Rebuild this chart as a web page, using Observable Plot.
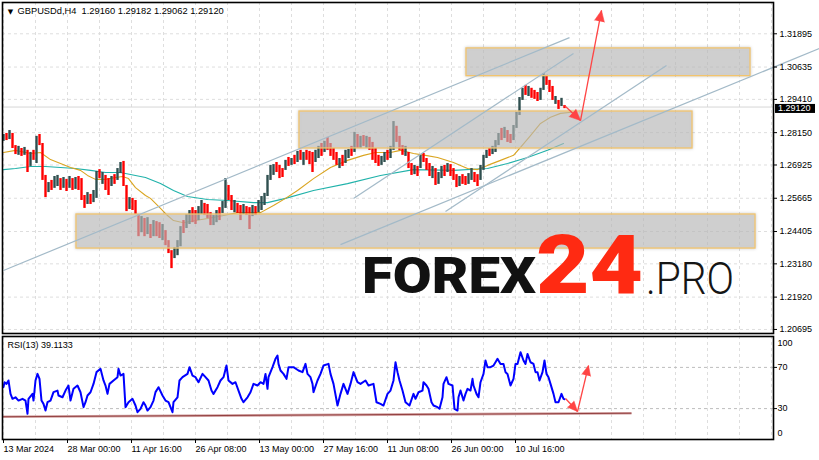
<!DOCTYPE html>
<html><head><meta charset="utf-8">
<script src="https://cdn.jsdelivr.net/npm/d3@7"></script>
<script src="https://cdn.jsdelivr.net/npm/@observablehq/plot@0.6"></script>
<style>
html,body{margin:0;padding:0;background:#fff;}
#chart{position:relative;width:819px;height:460px;overflow:hidden;}
#chart svg{display:block;}
</style></head><body><div id="chart"></div>
<script>
// ---- candles (one sample every 3 H4 bars), prices ----
const candleHigh = [1.2808,1.2812,1.2823,1.2812,1.2766,1.2763,1.2755,1.2759,1.2748,1.2740,
1.2748,1.2801,1.2808,1.2774,1.2653,1.2626,1.2634,1.2649,1.2653,1.2641,
1.2645,1.2638,1.2649,1.2641,1.2645,1.2649,1.2641,1.2577,1.2588,1.2581,
1.2596,1.2668,1.2675,1.2664,1.2653,1.2641,1.2649,1.2656,1.2679,1.2702,
1.2706,1.2615,1.2569,1.2566,1.2558,1.2505,1.2497,1.2490,1.2493,1.2467,
1.2482,1.2478,1.2474,1.2467,1.2444,1.2406,1.2368,1.2380,1.2406,1.2459,
1.2482,1.2505,1.2520,1.2531,1.2520,1.2535,1.2558,1.2547,1.2543,1.2512,
1.2501,1.2520,1.2531,1.2554,1.2641,1.2615,1.2577,1.2558,1.2547,1.2539,
1.2543,1.2535,1.2531,1.2539,1.2535,1.2558,1.2573,1.2585,1.2653,1.2691,
1.2694,1.2702,1.2691,1.2679,1.2710,1.2721,1.2717,1.2729,1.2744,1.2748,
1.2740,1.2748,1.2744,1.2740,1.2748,1.2763,1.2774,1.2782,1.2797,1.2774,
1.2755,1.2740,1.2717,1.2729,1.2748,1.2751,1.2763,1.2816,1.2808,1.2801,
1.2804,1.2801,1.2797,1.2778,1.2755,1.2729,1.2725,1.2740,1.2748,1.2763,
1.2857,1.2839,1.2801,1.2766,1.2763,1.2740,1.2698,1.2691,1.2687,1.2729,
1.2736,1.2717,1.2698,1.2687,1.2679,1.2664,1.2687,1.2691,1.2698,1.2694,
1.2679,1.2656,1.2649,1.2656,1.2649,1.2660,1.2679,1.2664,1.2656,1.2691,
1.2729,1.2748,1.2755,1.2763,1.2785,1.2812,1.2831,1.2835,1.2823,1.2808,
1.2842,1.2892,1.2948,1.2983,1.2994,1.2990,1.2983,1.2975,1.2967,1.2983,
1.3039,1.3032,1.3013,1.2990,1.2952,1.2937,1.2945,1.2918];
const candleLow = [1.2782,1.2785,1.2789,1.2755,1.2732,1.2729,1.2725,1.2729,1.2664,1.2687,
1.2710,1.2698,1.2766,1.2634,1.2569,1.2588,1.2596,1.2604,1.2611,1.2596,
1.2604,1.2592,1.2604,1.2596,1.2600,1.2596,1.2558,1.2528,1.2543,1.2543,
1.2550,1.2566,1.2641,1.2619,1.2596,1.2577,1.2611,1.2619,1.2634,1.2660,
1.2611,1.2516,1.2524,1.2520,1.2505,1.2421,1.2436,1.2421,1.2429,1.2414,
1.2421,1.2421,1.2414,1.2406,1.2387,1.2357,1.2300,1.2338,1.2349,1.2383,
1.2433,1.2452,1.2467,1.2474,1.2467,1.2482,1.2505,1.2501,1.2490,1.2463,
1.2463,1.2474,1.2482,1.2509,1.2528,1.2558,1.2520,1.2512,1.2509,1.2482,
1.2505,1.2501,1.2448,1.2497,1.2501,1.2512,1.2520,1.2539,1.2573,1.2634,
1.2653,1.2664,1.2641,1.2645,1.2672,1.2687,1.2691,1.2694,1.2702,1.2710,
1.2691,1.2710,1.2694,1.2664,1.2702,1.2717,1.2725,1.2740,1.2748,1.2725,
1.2710,1.2691,1.2679,1.2687,1.2698,1.2717,1.2725,1.2740,1.2755,1.2755,
1.2763,1.2755,1.2748,1.2710,1.2698,1.2687,1.2691,1.2702,1.2710,1.2717,
1.2748,1.2778,1.2748,1.2729,1.2725,1.2679,1.2653,1.2656,1.2649,1.2679,
1.2702,1.2672,1.2649,1.2641,1.2615,1.2619,1.2641,1.2649,1.2664,1.2649,
1.2634,1.2607,1.2611,1.2619,1.2615,1.2619,1.2634,1.2626,1.2611,1.2634,
1.2672,1.2717,1.2725,1.2732,1.2740,1.2766,1.2785,1.2793,1.2778,1.2774,
1.2785,1.2831,1.2880,1.2937,1.2956,1.2952,1.2945,1.2941,1.2933,1.2937,
1.2975,1.2994,1.2967,1.2937,1.2922,1.2903,1.2914,1.2906];
const candleDir = "ududdududu"+"duddduduud"+"udududddud"+"uududduduu"+"ddudddudud"+
"udduddduuu"+"duudduuddd"+"uuduuddudd"+"udduduuuuu"+"udddududud"+
"uddduududd"+"dduduududu"+"dudddduudu"+"uddduddudu"+"ddduduudud"+
"ddudduuddu"+"uuduuududd"+"uuuududddu"+"udddudud";
const barStep = 3;

// moving averages [bar, price]
const maFast = [[0,1.2740],[12,1.2748],[27,1.2736],[37,1.2740],[47,1.2713],[57,1.2698],[67,1.2683],[77,1.2672],[84,1.2653],[92,1.2638],[102,1.2638],[112,1.2645],[119,1.2649],[125,1.2641],[132,1.2607],[142,1.2577],[147,1.2566],[157,1.2528],[164,1.2501],[170,1.2482],[180,1.2474],[192,1.2482],[204,1.2490],[220,1.2501],[234,1.2512],[257,1.2512],[270,1.2539],[282,1.2566],[294,1.2596],[310,1.2641],[327,1.2683],[344,1.2710],[360,1.2729],[372,1.2740],[387,1.2740],[397,1.2748],[410,1.2736],[422,1.2729],[434,1.2721],[450,1.2702],[464,1.2679],[474,1.2675],[484,1.2691],[497,1.2710],[510,1.2729],[517,1.2759],[527,1.2804],[537,1.2850],[547,1.2873],[557,1.2888],[568,1.2892]];
const maSlow = [[0,1.2675],[12,1.2679],[27,1.2687],[42,1.2687],[57,1.2683],[72,1.2679],[87,1.2672],[102,1.2664],[117,1.2664],[132,1.2653],[142,1.2645],[157,1.2622],[170,1.2596],[184,1.2573],[204,1.2562],[224,1.2558],[250,1.2550],[264,1.2550],[282,1.2566],[310,1.2596],[344,1.2622],[377,1.2653],[410,1.2675],[450,1.2672],[484,1.2679],[504,1.2698],[524,1.2721],[544,1.2748],[560,1.2774]];

// RSI(13) [bar, value]
const rsi = [[0,50.8],[1,55.6],[3,54],[5,57.3],[7,44.3],[9,39.5],[12,41],[15,37.8],[19,39.5],[22,37.8],[24,25],[25,39.5],[29,44.3],[30,37.8],[32,57.3],[34,63.7],[36,58.9],[38,37.8],[40,34.6],[42,28.1],[44,36.2],[47,37.8],[50,46],[54,47.5],[55,42.7],[59,41],[62,47.5],[65,52.4],[67,37.8],[70,49.2],[74,52.4],[77,45.9],[80,31.4],[82,36.2],[84,42.7],[87,45.9],[90,54],[93,65.4],[97,68.6],[100,57.3],[102,52.4],[104,44.3],[106,54],[110,57.3],[114,60.5],[115,68.6],[117,62.1],[120,63.7],[122,31.4],[125,36.2],[129,39.5],[132,33],[134,26.5],[137,29.8],[140,36.2],[142,33],[144,28.1],[147,31.4],[150,37.8],[152,46],[155,50.8],[159,42.7],[162,37.8],[165,36.2],[169,26.5],[170,36.2],[174,41],[176,57.3],[179,60.5],[184,63.7],[186,70.2],[189,62.1],[192,60.5],[195,55.6],[199,63.7],[202,60.5],[205,57.3],[208,47.5],[210,44.3],[214,50.8],[217,57.3],[220,60.5],[223,71.8],[225,57.3],[229,54],[232,55.6],[235,47.5],[238,39.5],[240,36.2],[244,41],[247,45.9],[250,54],[254,52.4],[257,55.6],[260,54],[262,63.7],[264,49.2],[265,60.5],[269,70.2],[272,78.3],[274,81.5],[275,73.4],[277,67],[280,63.7],[283,58.9],[285,70.2],[290,70.2],[295,67],[299,65.4],[302,73.4],[304,63.7],[307,60.5],[309,54],[310,46],[314,57.3],[317,63.7],[320,71.8],[325,73.4],[327,63.7],[330,54],[334,33],[337,44.3],[340,54],[344,44.3],[347,54],[350,65.4],[354,55.6],[357,54],[362,57.3],[365,52.4],[370,54],[373,36.2],[377,34.6],[380,33],[384,44.3],[387,47.5],[390,57.3],[392,75],[394,65.4],[396,57.3],[399,47.5],[402,36.2],[406,33],[410,44.3],[412,39.5],[415,45.9],[419,47.5],[420,55.6],[423,52.4],[425,49.2],[428,36.2],[430,33],[434,31.4],[436,29.8],[439,41],[440,54],[443,60.5],[445,54],[449,52.4],[451,29.8],[454,28.1],[455,41],[457,47.5],[460,37.8],[462,44.3],[464,49.2],[467,47.5],[469,58.9],[470,52.4],[473,44.3],[475,41],[477,55.6],[480,63.7],[482,76.7],[484,70.2],[487,70.2],[490,71.8],[492,75],[494,78.3],[497,73.4],[500,73.4],[502,65.4],[504,63.7],[507,52.4],[510,58.9],[512,73.4],[514,73.4],[517,84.8],[520,76.7],[522,73.4],[524,83.1],[527,75],[530,73.4],[532,65.4],[534,65.4],[536,57.3],[539,65.4],[541,76.7],[543,63.7],[545,60.5],[547,54],[550,44.3],[552,36.2],[555,36.2],[558,44.3],[560,39.5],[561,39.1133]];

// drawings
const zones = [
  {x1: 463, x2: 747, y1: 1.3134, y2: 1.3029},
  {x1: 296, x2: 689, y1: 1.2895, y2: 1.2755},
  {x1: 73,  x2: 752, y1: 1.2505, y2: 1.2376}
];
const trendLines = [
  {x1: 0,   y1: 1.2293, x2: 566, y2: 1.3175},
  {x1: 337, y1: 1.2391, x2: 816, y2: 1.3134},
  {x1: 350, y1: 1.2566, x2: 570, y2: 1.3115},
  {x1: 442, y1: 1.2516, x2: 663, y2: 1.3069}
];
const arrowsMain = [
  {x1: 561, y1: 1.2918, x2: 577, y2: 1.2861},
  {x1: 577, y1: 1.2861, x2: 598, y2: 1.3278}
];
const arrowsRsi = [
  {x1: 562, y1: 39.8, x2: 574, y2: 27.2},
  {x1: 574, y1: 27.2, x2: 585, y2: 71.8}
];
const rsiSupport = [{x1: -1, y1: 22.1, x2: 628, y2: 25.5}];

// axes
const priceTicks = [1.31895,1.30635,1.29410,1.28150,1.26925,1.25665,1.24405,1.23180,1.21920,1.20695];
const timeTickBars = [0,64,128,192,256,320,384,448,512];
const timeLabels = ["13 Mar 2024","28 Mar 00:00","11 Apr 16:00","26 Apr 08:00","13 May 00:00","27 May 16:00","11 Jun 08:00","26 Jun 00:00","10 Jul 16:00"];
const headerText = "GBPUSDd,H4\u00a0\u00a01.29160 1.29182 1.29062 1.29120";
const lastClose = 1.29120;
const rsiLabel = "RSI(13) 39.1133";

// ---- build ----
const FONT = "'Liberation Sans', Arial, sans-serif";
const xDomain = [-1, 770];
const yDomain = [1.20542, 1.33080];
const W = 819, mainH = 335, rsiH = 125;
const candles = candleHigh.map((h, i) => ({bar: i * barStep, high: h, low: candleLow[i], up: candleDir[i] === "u"}));
const vGrid = d3.range(0, 770, 32);
const labelByBar = new Map(timeTickBars.map((b, i) => [b, timeLabels[i]]));

const sx = Plot.scale({x: {domain: xDomain, range: [2, W - 46]}});
const syMain = Plot.scale({y: {domain: yDomain, range: [mainH - 2, 2]}});
const syRsi = Plot.scale({y: {domain: [0, 100], range: [rsiH - 21, 1]}});
const angle = (d, sy) => Math.atan2(sx.apply(d.x2) - sx.apply(d.x1), -(sy.apply(d.y2) - sy.apply(d.y1))) * 180 / Math.PI;

const RED = "#ff4444";
const GRID = "#dedede";

const main = Plot.plot({
  width: W, height: mainH,
  marginLeft: 2, marginRight: 46, marginTop: 2, marginBottom: 2,
  x: {domain: xDomain, axis: null},
  y: {domain: yDomain, axis: null},
  color: {type: "identity"},
  style: {fontFamily: FONT, fontSize: "9px", background: "white", color: "black", overflow: "visible"},
  marks: [
    Plot.ruleX(vGrid, {stroke: GRID, strokeDasharray: "3,3"}),
    Plot.ruleY(priceTicks, {stroke: GRID, strokeDasharray: "3,3"}),
    Plot.ruleY([lastClose], {stroke: "#d6d6d6"}),
    Plot.line(maSlow, {x: d => d[0], y: d => d[1], stroke: "#20b2aa", strokeWidth: 1.1}),
    Plot.line(maFast, {x: d => d[0], y: d => d[1], stroke: "#daa520", strokeWidth: 1.1}),
    Plot.ruleX(candles, {x: "bar", y1: "low", y2: "high", stroke: d => d.up ? "#2f4f4f" : "#ff0000", strokeWidth: 2.4}),
    Plot.rect(zones, {x1: "x1", x2: "x2", y1: "y1", y2: "y2", fill: "#c8c8c8", fillOpacity: 0.6, stroke: "#f2c46d", strokeWidth: 1.3}),
    Plot.link(trendLines, {x1: "x1", y1: "y1", x2: "x2", y2: "y2", stroke: "#a3bac8", strokeWidth: 1.2}),
    Plot.link(arrowsMain, {x1: "x1", y1: "y1", x2: "x2", y2: "y2", stroke: RED, strokeWidth: 1.3}),
    Plot.vector(arrowsMain, {x: "x2", y: "y2", rotate: d => angle(d, syMain), length: 11, r: 5, shape: "spike", anchor: "end", fill: RED, stroke: RED, strokeWidth: 0.5}),
    Plot.frame({stroke: "black", strokeWidth: 1.6}),
    Plot.axisY(priceTicks, {anchor: "right", tickSize: 3, tickPadding: 3, tickFormat: d3.format(".5f"), fontSize: 9, label: null}),
    Plot.text(["\u25BC"], {frameAnchor: "top-left", dx: 8, dy: 9, fontSize: 7, textAnchor: "middle", lineAnchor: "middle", fontFamily: "DejaVu Sans"}),
    Plot.text([headerText], {frameAnchor: "top-left", dx: 15, dy: 9, fontSize: 9.3, textAnchor: "start", lineAnchor: "middle"})
  ]
});

const rsiPlot = Plot.plot({
  width: W, height: rsiH,
  marginLeft: 2, marginRight: 46, marginTop: 1, marginBottom: 21,
  x: {domain: xDomain, axis: null},
  y: {domain: [0, 100], axis: null},
  style: {fontFamily: FONT, fontSize: "9px", background: "white", color: "black", overflow: "visible"},
  marks: [
    Plot.ruleX(vGrid, {stroke: GRID, strokeDasharray: "3,3"}),
    Plot.ruleY([30, 70], {stroke: "#bdbdbd", strokeDasharray: "3,3"}),
    Plot.link(rsiSupport, {x1: "x1", y1: "y1", x2: "x2", y2: "y2", stroke: "#d4a5a5", strokeWidth: 2.6}),
    Plot.link(rsiSupport, {x1: "x1", y1: "y1", x2: "x2", y2: "y2", stroke: "#8b3434", strokeWidth: 0.9}),
    Plot.line(rsi, {x: d => d[0], y: d => d[1], stroke: "#0000ff", strokeWidth: 2}),
    Plot.link(arrowsRsi, {x1: "x1", y1: "y1", x2: "x2", y2: "y2", stroke: RED, strokeWidth: 1.3}),
    Plot.vector(arrowsRsi, {x: "x2", y: "y2", rotate: d => angle(d, syRsi), length: 10, r: 4.5, shape: "spike", anchor: "end", fill: RED, stroke: RED, strokeWidth: 0.5}),
    Plot.frame({stroke: "black", strokeWidth: 1.6}),
    Plot.axisY([30, 70], {anchor: "right", tickSize: 3, tickPadding: 1, fontSize: 9, label: null}),
    Plot.text([100], {frameAnchor: "right", y: d => d, dx: 4, dy: 7, textAnchor: "start", fontSize: 9, text: d => String(d)}),
    Plot.text([0], {frameAnchor: "right", y: d => d, dx: 4, dy: -6, textAnchor: "start", fontSize: 9, text: d => String(d)}),
    Plot.axisX(timeTickBars, {anchor: "bottom", tickSize: 4, tickPadding: 2, textAnchor: "start", fontSize: 9, tickFormat: d => labelByBar.get(d), label: null}),
    Plot.text([rsiLabel], {frameAnchor: "top-left", dx: 5, dy: 9, fontSize: 9, textAnchor: "start", lineAnchor: "middle"})
  ]
});

// current price label on the price axis
const svg = d3.select(main);
const yc = main.scale("y").apply(lastClose);
svg.append("rect").attr("x", W - 44).attr("y", yc - 2.6).attr("width", 40).attr("height", 9).attr("fill", "#000");
svg.append("text").attr("x", W - 41).attr("y", yc + 2).attr("dominant-baseline", "middle").attr("text-anchor", "start")
  .attr("font-family", FONT).attr("font-size", 9).attr("fill", "#fff").text(d3.format(".5f")(lastClose));

// soft shadow around zones
svg.selectAll('g[aria-label="rect"] rect').style("filter", "drop-shadow(0px 0px 1.5px rgba(0,0,0,0.25))");

// watermark
const wm = svg.append("g").attr("font-family", "Roboto, 'Open Sans', Lato, sans-serif").attr("text-anchor", "start");
wm.append("text").attr("x", 362).attr("y", 293).attr("font-size", 50).attr("font-weight", 900)
  .attr("fill", "#111").attr("textLength", 174).attr("lengthAdjust", "spacingAndGlyphs").text("FOREX");
wm.append("text").attr("x", 536).attr("y", 293).attr("font-size", 81).attr("font-weight", 900)
  .attr("fill", "#ff2a12").attr("textLength", 107).attr("lengthAdjust", "spacingAndGlyphs").text("24");
wm.append("text").attr("x", 646).attr("y", 294).attr("font-size", 44).attr("font-weight", 300)
  .attr("fill", "#151515").attr("textLength", 88).attr("lengthAdjust", "spacingAndGlyphs").text(".PRO");

const root = document.getElementById("chart");
root.appendChild(main);
root.appendChild(rsiPlot);
</script>
</body></html>
